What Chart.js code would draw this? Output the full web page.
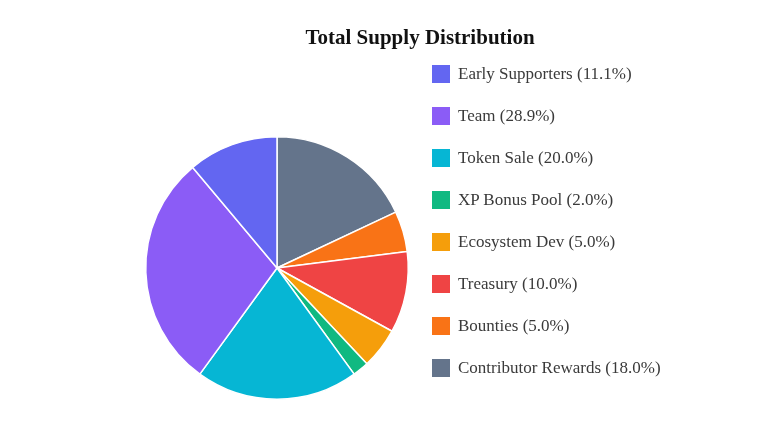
<!DOCTYPE html>
<html>
<head>
<meta charset="utf-8">
<script src="https://cdn.jsdelivr.net/npm/chart.js@4.4.1/dist/chart.umd.min.js"></script>
<style>
  html,body{margin:0;padding:0;background:#fff;}
  #wrap{position:relative;width:758px;height:421px;font-family:"Liberation Serif","Times New Roman",serif;}
  #chart{position:absolute;left:0;top:0;}
  #title{position:absolute;left:320px;width:200px;top:24px;text-align:center;white-space:nowrap;
    font-size:21px;font-weight:bold;color:#111;line-height:26px;display:flex;justify-content:center;}
  #legend{position:absolute;left:432px;top:53px;margin:0;padding:0;list-style:none;}
  #legend li{display:flex;align-items:center;height:42px;font-size:17px;color:#3a3a3a;white-space:nowrap;}
  #legend .box{width:18px;height:18px;margin-right:8px;flex:none;}
</style>
</head>
<body>
<div id="wrap">
  <canvas id="chart" width="758" height="421"></canvas>
  <div id="title">Total Supply Distribution</div>
  <ul id="legend"></ul>
</div>
<script>
// ─── DATA ───────────────────────────────────────────────────────────
const categories = ['Early Supporters','Team','Token Sale','XP Bonus Pool','Ecosystem Dev','Treasury','Bounties','Contributor Rewards'];
const shares = [11.1, 28.9, 20.0, 2.0, 5.0, 10.0, 5.0, 18.0];
const colors = ['#6366f1','#8b5cf6','#06b6d4','#10b981','#f59e0b','#ef4444','#f97316','#64748b'];

const labels = categories.map((c,i)=>`${c} (${shares[i].toFixed(1)}%)`);

// slices in the reference run counterclockwise from 12 o'clock,
// Chart.js goes clockwise, so feed it the reversed order
const rev = a => [...a].reverse();

// HTML legend in original order, built from the chart's own labels
const htmlLegend = {
  id:'htmlLegend',
  afterUpdate(chart){
    const ul=document.getElementById('legend');
    const items=chart.options.plugins.legend.labels.generateLabels(chart).reverse();
    ul.innerHTML=items.map(it=>`<li><span class="box" style="background:${it.fillStyle}"></span>${it.text}</li>`).join('');
  }
};

new Chart(document.getElementById('chart'),{
  type:'pie',
  data:{
    labels:rev(labels),
    datasets:[{data:rev(shares),backgroundColor:rev(colors),borderColor:'#fff',borderWidth:1.5}]
  },
  options:{
    responsive:false,
    animation:false,
    layout:{padding:{left:145,top:136,right:349,bottom:21}},
    plugins:{legend:{display:false},title:{display:false},tooltip:{enabled:false}}
  },
  plugins:[htmlLegend]
});
</script>
</body>
</html>
